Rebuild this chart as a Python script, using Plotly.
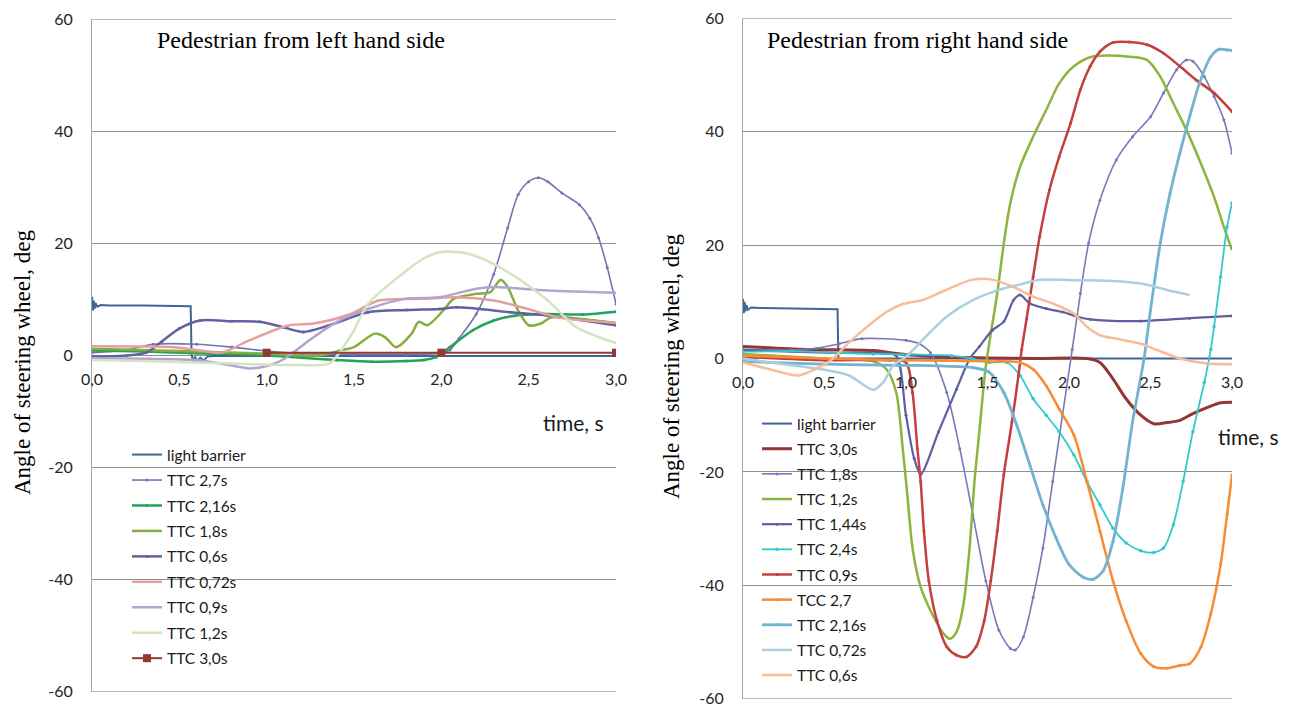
import plotly.graph_objects as go

W, H = 1293, 711

# ---------------- data: left chart (pedestrian from left) ----------------
L_lb_t = [0, 0.005, 0.01, 0.015, 0.02, 0.03, 0.05, 0.1, 0.3, 0.5, 0.565, 0.57, 0.58, 0.59, 0.6, 0.62, 0.64, 0.66, 0.7, 1.0, 2.0, 3.0]
L_lb_v = [10.5, 8.0, 9.8, 8.3, 9.4, 8.7, 9.0, 8.9, 8.9, 8.8, 8.8, 0.2, -1.2, -0.2, -1.0, -0.4, -0.9, -0.2, -0.1, -0.1, -0.1, -0.1]

L_27_t = [0, 0.2, 0.35, 0.6, 0.8, 1.0, 1.2, 1.5, 1.8, 2.0, 2.05, 2.1, 2.2, 2.3, 2.38, 2.44, 2.5, 2.556, 2.61, 2.69, 2.79, 2.85, 2.9, 2.95, 3.0]
L_27_v = [0.5, 1.0, 2.0, 2.0, 1.5, 0.8, 0.3, 0.2, 0.2, 0.4, 1.0, 3.0, 7.4, 14.5, 22.8, 28.7, 31.0, 31.7, 31.0, 29.0, 26.9, 24.5, 21.0, 15.7, 9.2]

L_216_t = [0, 0.3, 0.6, 1.0, 1.2, 1.4, 1.6, 1.8, 1.9, 1.97, 2.05, 2.18, 2.3, 2.42, 2.6, 2.81, 3.0]
L_216_v = [0.9, 0.7, 0.4, 0.0, -0.4, -0.8, -1.1, -1.0, -0.8, -0.3, 1.5, 4.5, 6.25, 7.1, 7.4, 7.3, 7.8]

L_18_t = [0, 0.5, 0.97, 1.3, 1.42, 1.5, 1.62, 1.68, 1.74, 1.83, 1.87, 1.92, 2.01, 2.07, 2.2, 2.28, 2.34, 2.38, 2.44, 2.5, 2.57, 2.63, 2.8, 3.0]
L_18_v = [1.2, 0.8, 0.35, 0.0, 0.9, 1.5, 3.9, 3.2, 1.5, 3.9, 6.0, 5.4, 8.0, 10.1, 11.0, 11.3, 13.5, 12.2, 8.0, 5.4, 5.7, 6.8, 6.5, 5.8]

L_06_t = [0, 0.2, 0.31, 0.4, 0.5, 0.62, 0.8, 0.96, 1.1, 1.21, 1.35, 1.58, 1.8, 1.99, 2.09, 2.4, 2.61, 3.0]
L_06_v = [-0.2, 0.0, 0.5, 2.5, 4.8, 6.25, 6.1, 6.0, 5.0, 4.2, 5.3, 7.7, 8.1, 8.3, 8.6, 7.7, 7.1, 5.4]

L_072_t = [0, 0.25, 0.45, 0.6, 0.74, 0.9, 1.13, 1.27, 1.48, 1.64, 1.89, 2.09, 2.3, 2.46, 2.67, 3.0]
L_072_v = [1.65, 1.6, 1.5, 1.0, 0.5, 2.7, 5.4, 5.7, 7.4, 9.8, 10.1, 10.4, 9.8, 8.6, 6.8, 5.8]

L_09_t = [0, 0.3, 0.6, 0.75, 0.9, 1.0, 1.09, 1.27, 1.42, 1.58, 1.79, 1.99, 2.2, 2.3, 2.61, 3.0]
L_09_v = [-0.5, -0.6, -0.8, -1.5, -2.3, -1.9, -0.8, 3.3, 6.3, 8.3, 10.1, 10.4, 11.9, 12.2, 11.6, 11.2]

L_12_t = [0, 0.3, 0.76, 1.17, 1.36, 1.45, 1.5, 1.58, 1.75, 1.91, 2.01, 2.16, 2.3, 2.46, 2.61, 2.77, 2.9, 3.0]
L_12_v = [-0.8, -1.0, -1.4, -1.7, -1.4, 2.0, 4.5, 9.2, 13.9, 17.5, 18.5, 18.1, 16.3, 13.3, 9.8, 5.1, 3.3, 2.2]

L_30_t = [1.0, 2.0, 3.0]
L_30_v = [0.5, 0.5, 0.5]

# ---------------- data: right chart (pedestrian from right) ----------------
R_lb_t = [0, 0.005, 0.01, 0.015, 0.02, 0.03, 0.05, 0.1, 0.3, 0.5, 0.58, 0.585, 0.6, 1.0, 2.0, 3.0]
R_lb_v = [10.5, 8.0, 10.0, 8.3, 9.4, 8.6, 9.0, 8.9, 8.8, 8.7, 8.7, 0.0, 0.0, 0.0, 0.0, 0.0]

R_30_t = [0, 0.39, 0.8, 0.94, 1.2, 1.5, 1.8, 2.11, 2.19, 2.27, 2.35, 2.44, 2.52, 2.6, 2.68, 2.76, 2.85, 2.93, 3.0]
R_30_v = [2.1, 1.6, 1.4, 0.9, 0.3, 0.1, 0.0, 0.0, -0.7, -3.6, -7.1, -10.0, -11.5, -11.3, -10.9, -9.7, -8.6, -7.8, -7.7]

R_18_t = [0, 0.3, 0.45, 0.59, 0.73, 1.0, 1.08, 1.15, 1.25, 1.33, 1.41, 1.49, 1.57, 1.64, 1.67, 1.72, 1.78, 1.84, 1.9, 1.96, 2.02, 2.07, 2.12, 2.19, 2.29, 2.39, 2.5, 2.58, 2.66, 2.72, 2.76, 2.83, 2.89, 2.95, 3.0]
R_18_v = [1.6, 1.5, 1.8, 2.6, 3.5, 3.2, 2.6, 1.0, -6.0, -15.9, -27.5, -39.2, -47.9, -51.1, -51.4, -49.1, -42.1, -33.4, -21.7, -10.0, 1.6, 11.5, 20.3, 27.9, 35.0, 39.1, 42.6, 46.8, 50.9, 52.6, 52.4, 49.7, 46.2, 42.1, 36.2]

R_12_t = [0, 0.5, 0.8, 0.88, 0.94, 0.98, 1.01, 1.04, 1.09, 1.16, 1.23, 1.27, 1.31, 1.35, 1.39, 1.42, 1.45, 1.49, 1.56, 1.6, 1.64, 1.7, 1.78, 1.86, 1.94, 2.03, 2.13, 2.23, 2.37, 2.48, 2.56, 2.64, 2.72, 2.8, 2.89, 2.95, 3.0]
R_12_v = [0.8, 0.0, -0.5, -1.9, -6.0, -15.9, -24.6, -33.4, -40.3, -45.0, -48.5, -49.4, -48.2, -43.8, -33.4, -21.7, -12.9, -1.3, 11.5, 20.3, 27.4, 33.8, 39.1, 43.8, 48.5, 51.5, 53.1, 53.4, 53.2, 52.6, 49.7, 45.0, 40.3, 35.0, 28.5, 23.2, 19.1]

R_144_t = [0, 0.3, 0.6, 0.85, 0.94, 1.0, 1.05, 1.09, 1.2, 1.31, 1.39, 1.45, 1.53, 1.6, 1.66, 1.7, 1.76, 1.86, 1.96, 2.05, 2.13, 2.44, 2.74, 3.0]
R_144_v = [1.5, 1.2, 1.0, 1.0, 0.5, -10.0, -17.6, -20.4, -12.9, -5.4, -0.1, 2.1, 5.0, 6.5, 10.3, 11.2, 9.7, 8.8, 8.2, 7.4, 6.9, 6.6, 7.1, 7.5]

R_24_t = [0, 0.3, 0.8, 1.28, 1.4, 1.51, 1.62, 1.7, 1.78, 1.86, 1.94, 2.03, 2.11, 2.19, 2.27, 2.35, 2.44, 2.52, 2.58, 2.64, 2.7, 2.76, 2.83, 2.87, 2.89, 2.93, 2.97, 3.0]
R_24_v = [1.2, 1.3, 0.8, 0.5, 0.0, -0.7, -0.7, -3.0, -7.1, -10.0, -12.9, -17.0, -21.7, -25.8, -29.9, -32.5, -33.9, -34.2, -33.4, -29.3, -21.7, -12.9, -4.2, 1.6, 5.6, 14.4, 23.2, 27.4]

R_09_t = [0, 0.5, 0.9, 1.0, 1.04, 1.07, 1.09, 1.11, 1.14, 1.19, 1.25, 1.31, 1.37, 1.43, 1.48, 1.52, 1.56, 1.6, 1.65, 1.69, 1.71, 1.74, 1.78, 1.82, 1.88, 1.94, 2.01, 2.07, 2.13, 2.19, 2.27, 2.37, 2.48, 2.58, 2.68, 2.78, 2.89, 3.0]
R_09_v = [0.3, -0.3, -0.3, -0.7, -6.0, -15.9, -21.7, -30.4, -39.2, -46.2, -50.8, -52.3, -52.6, -50.8, -46.2, -39.2, -30.4, -20.5, -11.2, -3.0, 1.6, 7.0, 14.4, 21.5, 29.7, 35.6, 41.5, 47.4, 51.5, 54.1, 55.7, 55.8, 55.3, 53.8, 51.5, 49.1, 46.8, 43.5]

R_27_t = [0, 0.5, 1.0, 1.5, 1.7, 1.78, 1.86, 1.94, 2.03, 2.11, 2.19, 2.27, 2.35, 2.44, 2.52, 2.6, 2.68, 2.74, 2.81, 2.87, 2.93, 2.97, 3.0]
R_27_v = [0.5, 0.0, -0.3, -0.5, -0.7, -1.9, -4.8, -8.9, -13.5, -21.7, -30.4, -39.2, -46.2, -52.0, -54.3, -54.6, -54.1, -53.8, -50.8, -45.0, -36.3, -27.5, -20.5]

R_216_t = [0, 0.5, 1.0, 1.2, 1.41, 1.51, 1.6, 1.68, 1.76, 1.84, 1.92, 2.0, 2.09, 2.15, 2.21, 2.27, 2.33, 2.39, 2.46, 2.5, 2.56, 2.62, 2.68, 2.74, 2.8, 2.87, 2.92, 2.97, 3.0]
R_216_v = [-0.5, -1.0, -1.2, -1.3, -1.6, -2.4, -6.0, -11.8, -18.8, -25.8, -31.6, -36.3, -38.6, -38.9, -37.4, -32.2, -22.9, -11.2, -0.1, 8.5, 20.3, 29.1, 36.2, 42.6, 48.5, 53.2, 54.5, 54.4, 54.3]

R_072_t = [0, 0.25, 0.5, 0.65, 0.8, 0.86, 0.92, 1.0, 1.12, 1.25, 1.41, 1.57, 1.72, 1.82, 2.03, 2.23, 2.44, 2.56, 2.64, 2.74]
R_072_v = [0.0, -1.0, -2.0, -3.0, -5.5, -4.2, -1.3, 0.3, 3.8, 7.4, 10.3, 12.1, 13.2, 13.9, 13.8, 13.7, 13.2, 12.4, 11.8, 11.2]

R_06_t = [0, 0.15, 0.34, 0.45, 0.54, 0.65, 0.77, 0.88, 0.98, 1.1, 1.2, 1.31, 1.41, 1.53, 1.66, 1.78, 1.9, 2.03, 2.11, 2.19, 2.29, 2.44, 2.54, 2.68, 2.85, 3.0]
R_06_v = [-0.7, -1.8, -3.0, -1.8, -0.3, 2.8, 5.8, 8.2, 9.6, 10.3, 11.5, 12.9, 13.9, 13.9, 12.6, 10.9, 9.7, 7.9, 5.6, 4.1, 3.5, 2.6, 1.5, 0.0, -0.9, -1.0]

x_ticks = [0, 0.5, 1.0, 1.5, 2.0, 2.5, 3.0]
x_labels = ["0,0", "0,5", "1,0", "1,5", "2,0", "2,5", "3,0"]
y_ticks = [-60, -40, -20, 0, 20, 40, 60]
y_labels = ["-60", "-40", "-20", "0", "20", "40", "60"]
x_min, x_max = 0, 3.0
y_min, y_max = -60, 60

# name, t, v, colour, width, shape, marker symbol, marker size
left_series = [
    ("light barrier", L_lb_t, L_lb_v, "#3f6496", 2.0, "linear", None, 0),
    ("TTC 2,7s", L_27_t, L_27_v, "#7474b4", 1.6, "spline", "circle", 3),
    ("TTC 2,16s", L_216_t, L_216_v, "#23a25b", 2.5, "spline", "circle", 3),
    ("TTC 1,8s", L_18_t, L_18_v, "#86ad3d", 2.5, "spline", None, 0),
    ("TTC 0,6s", L_06_t, L_06_v, "#6262a2", 2.5, "spline", "circle", 3),
    ("TTC 0,72s", L_072_t, L_072_v, "#e3a19d", 2.5, "spline", None, 0),
    ("TTC 0,9s", L_09_t, L_09_v, "#b3a4cf", 2.5, "spline", None, 0),
    ("TTC 1,2s", L_12_t, L_12_v, "#d4e4c2", 2.5, "spline", None, 0),
    ("TTC 3,0s", L_30_t, L_30_v, "#953735", 2.0, "linear", "square", 8),
]

right_series = [
    ("light barrier", R_lb_t, R_lb_v, "#3f6496", 2.0, "linear", None, 0),
    ("TTC 3,0s", R_30_t, R_30_v, "#943634", 3.0, "spline", None, 0),
    ("TTC 1,8s", R_18_t, R_18_v, "#7878ba", 1.6, "spline", "circle", 3),
    ("TTC 1,2s", R_12_t, R_12_v, "#8db43e", 2.5, "spline", None, 0),
    ("TTC 1,44s", R_144_t, R_144_v, "#5e5ea2", 2.2, "spline", "circle", 3),
    ("TTC 2,4s", R_24_t, R_24_v, "#31c9cb", 1.8, "spline", "circle", 3.5),
    ("TTC 0,9s", R_09_t, R_09_v, "#c4403e", 2.5, "spline", "circle", 3),
    ("TCC 2,7", R_27_t, R_27_v, "#f68c34", 2.5, "spline", "circle", 3),
    ("TTC 2,16s", R_216_t, R_216_v, "#72b4d0", 2.8, "spline", "circle", 3),
    ("TTC 0,72s", R_072_t, R_072_v, "#a9d0df", 2.5, "spline", None, 0),
    ("TTC 0,6s", R_06_t, R_06_v, "#f8bb9c", 2.5, "spline", None, 0),
]

fig = go.Figure()

def add(series, xa, ya, leg, prefix):
    for i, (name, t, v, col, w, shape, msym, msize) in enumerate(series):
        line = dict(color=col, width=w, shape=shape)
        if shape == "spline":
            line["smoothing"] = 0.8
        if msym:
            fig.add_trace(go.Scatter(x=t, y=v, name=name, mode="lines+markers", line=line,
                                     marker=dict(symbol=msym, size=msize, color=col),
                                     xaxis=xa, yaxis=ya, legend=leg, legendgroup=f"{prefix}{i}"))
        else:
            fig.add_trace(go.Scatter(x=t, y=v, name=name, mode="lines", line=line,
                                     xaxis=xa, yaxis=ya, legend=leg, legendgroup=f"{prefix}{i}"))

add(left_series, "x", "y", "legend", "L")
add(right_series, "x2", "y2", "legend2", "R")

# screen pixel geometry -> paper (page body has an 8px offset)
OX, OY = 8, 8

def px(x):
    return (x - OX) / W

def py(y):
    return (H - (y - OY)) / H

L_dom_x = [px(92), px(616)]
R_dom_x = [px(743), px(1232)]
L_dom_y = [py(692), py(19)]
R_dom_y = [py(699), py(18)]

tickfont = dict(family="Lato", size=16, color="#262626")
grid = "#8f8f8f"

def yax(dom, xanchor):
    return dict(domain=dom, range=[y_min - 0.02, y_max + 0.02], tickvals=y_ticks, ticktext=y_labels,
                showgrid=True, gridcolor=grid, gridwidth=1, zeroline=False,
                showline=True, linecolor="#a6a6a6", linewidth=1, ticks="",
                tickfont=tickfont, ticklabelstandoff=15, ticklabeloverflow="allow",
                anchor=xanchor, fixedrange=True)

def xax(dom, yanchor, ydom):
    pos = ydom[0] + (ydom[1] - ydom[0]) * 0.5
    return dict(domain=dom, range=[x_min, x_max], tickvals=x_ticks, ticktext=x_labels,
                showgrid=False, zeroline=False, showline=False, ticks="",
                tickfont=tickfont, ticklabelstandoff=12, ticklabeloverflow="allow",
                anchor="free", position=pos)

legfont = dict(family="Lato", size=15.5, color="#1a1a1a")
fig.update_layout(
    width=W, height=H, margin=dict(l=0, r=0, t=0, b=0, pad=0, autoexpand=False),
    paper_bgcolor="white", plot_bgcolor="white",
    xaxis=xax(L_dom_x, "y", L_dom_y),
    yaxis=yax(L_dom_y, "x"),
    xaxis2=xax(R_dom_x, "y2", R_dom_y),
    yaxis2=yax(R_dom_y, "x2"),
    legend=dict(x=px(127), y=py(438), xanchor="left", yanchor="top", font=legfont,
                bgcolor="rgba(0,0,0,0)", tracegroupgap=2.3, itemwidth=30),
    legend2=dict(x=px(757), y=py(407), xanchor="left", yanchor="top", font=legfont,
                 bgcolor="rgba(0,0,0,0)", tracegroupgap=2, itemwidth=30),
    showlegend=True,
)

# top / bottom gridlines (edges of the value range)
for xr, yr in (("x", "y"), ("x2", "y2")):
    for yv in (y_min, y_max):
        fig.add_shape(type="line", xref=xr, yref=yr, x0=x_min, x1=x_max, y0=yv, y1=yv,
                      line=dict(color=grid, width=1), layer="below")

# white boxes behind legends (cover gridlines like the original legend boxes)
fig.add_shape(type="rect", xref="paper", yref="paper", x0=px(100), x1=px(252), y0=py(675), y1=py(440),
              fillcolor="white", line=dict(width=0), layer="between")
fig.add_shape(type="rect", xref="paper", yref="paper", x0=px(756), x1=px(897), y0=py(692), y1=py(410),
              fillcolor="white", line=dict(width=0), layer="between")

ann_font_serif = dict(family="Liberation Serif", size=24, color="#000000")
fig.add_annotation(text="Pedestrian from left hand side", xref="paper", yref="paper",
                   x=px(155), y=py(40), xanchor="left", yanchor="middle", showarrow=False,
                   font=ann_font_serif)
fig.add_annotation(text="Pedestrian from right hand side", xref="paper", yref="paper",
                   x=px(765), y=py(40), xanchor="left", yanchor="middle", showarrow=False,
                   font=ann_font_serif)
fig.add_annotation(text="Angle of steering wheel, deg", xref="paper", yref="paper",
                   x=px(22), y=py(362), xanchor="center", yanchor="middle", textangle=-90,
                   showarrow=False, font=dict(family="Liberation Serif", size=23, color="#000000"))
fig.add_annotation(text="Angle of steering wheel, deg", xref="paper", yref="paper",
                   x=px(672), y=py(366), xanchor="center", yanchor="middle", textangle=-90,
                   showarrow=False, font=dict(family="Liberation Serif", size=23, color="#000000"))
fig.add_annotation(text="time, s", xref="paper", yref="paper",
                   x=px(573), y=py(422), xanchor="center", yanchor="middle", showarrow=False,
                   font=dict(family="Lato", size=21, color="#1a1a1a"))
fig.add_annotation(text="time, s", xref="paper", yref="paper",
                   x=px(1248), y=py(436), xanchor="center", yanchor="middle", showarrow=False,
                   font=dict(family="Lato", size=21, color="#1a1a1a"))

fig.write_html("out.html")
